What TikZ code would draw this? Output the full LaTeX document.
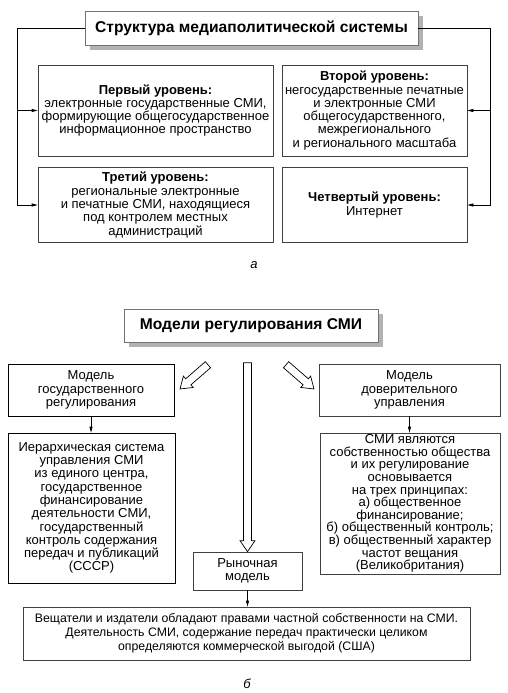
\documentclass[tikz,border=0pt]{standalone}
\usepackage{fontspec}
\setmainfont{Liberation Sans}
\usepackage{tikz}
\usetikzlibrary{
  arrows.meta,
  shadows
}

\begin{document}
\begin{tikzpicture}[%詳細設定
          x=1pt,y=-1pt,
          box/.style={
              draw=black!75,
              line width=0.7pt,
              fill=white,
              align=center,
              inner sep=0pt,
              font=\fontsize{13}{13.3}\selectfont
            },titlebox/.style={
              box,
              draw=black!55,
              font=\fontsize{15.6}{17}\selectfont\bfseries,
              drop shadow={
                  shadow xshift=5pt,
                  shadow yshift=-5pt,
                  fill=black!30,
                  opacity=1
                }
            },boxsize/.style 2 args={
              minimum width=#1pt,
              minimum height=#2pt
            },arrow/.style={
              line width=0.7pt,
              -{Triangle[length=6pt,width=3pt]}
            },caption/.style={
              font=\fontsize{13}{15}\selectfont\itshape
            },hollow/.pic={
              \draw[line width=0.7pt,fill=white]
                (-#1,-4) -- (-11,-4) -- (-11,-7.5) -- (0,0)
                -- (-11,7.5) -- (-11,4) -- (-#1,4) -- cycle;
            }
        ]
        \useasboundingbox (0,0) rectangle (508,693);

        % 上段 (a)
        \node[titlebox,boxsize={333}{34}] (struct) at (251.5,28)
          {Структура медиаполитической системы};
        \node[box,boxsize={235}{91}] (lev1) at (155.5,110.5)
          {\textbf{Первый уровень:}\\электронные государственные СМИ,\\формирующие общегосударственное\\информационное пространство};
        \node[box,boxsize={185}{91}] (lev2) at (374.5,110.5)
          {\textbf{Второй уровень:}\\негосударственные печатные\\и электронные СМИ\\общегосударственного,\\межрегионального\\и регионального масштаба};
        \node[box,boxsize={235}{75}] (lev3) at (155.5,205)
          {\textbf{Третий уровень:}\\региональные электронные\\и печатные СМИ, находящиеся\\под контролем местных\\администраций};
        \node[box,boxsize={185}{75}] (lev4) at (374.5,205)
          {\textbf{Четвертый уровень:}\\Интернет};

        % 座標の定義
        \coordinate (busL) at (17,28);
        \coordinate (busR) at (490,28);

        % 矢印
        \draw[arrow] (struct.west) -- (busL) |- (lev3.west);
        \draw[arrow] (busL |- lev1.west) -- (lev1.west);
        \draw[arrow] (struct.east) -- (busR) |- (lev4.east);
        \draw[arrow] (busR |- lev2.east) -- (lev2.east);

        \node[caption] (capA) at (254,265) {а};

        % 下段 (б)
        \node[titlebox,boxsize={254}{33}] (models) at (251,325.5)
          {Модели регулирования СМИ};
        \node[box,draw=black,boxsize={166}{52}] (gov) at (91,390)
          {Модель\\государственного\\регулирования};
        \node[box,boxsize={181}{52}] (trust) at (409.5,390)
          {Модель\\доверительного\\управления};
        \node[box,draw=black,boxsize={167}{150}] (govtext) at (91.5,508)
          {Иерархическая система\\управления СМИ\\из единого центра,\\государственное\\финансирование\\деятельности СМИ,\\государственный\\контроль содержания\\передач и публикаций\\(СССР)};
        \node[box,boxsize={180}{141},font=\fontsize{13}{12.6}\selectfont] (trusttext) at (410,503.5)
          {СМИ являются\\собственностью общества\\и их регулирование\\основывается\\на трех принципах:\\а) общественное\\финансирование;\\б) общественный контроль;\\в) общественный характер\\частот вещания\\(Великобритания)};
        \node[box,boxsize={109}{38}] (market) at (247.5,571)
          {Рыночная\\модель};
        \node[box,boxsize={447}{53},font=\fontsize{12.3}{14}\selectfont] (private) at (246.5,633.5)
          {Вещатели и издатели обладают правами частной собственности на СМИ.\\Деятельность СМИ, содержание передач практически целиком\\определяются коммерческой выгодой (США)};

        % 矢印
        \draw[arrow] (gov.south) -- (gov.south |- govtext.north);
        \draw[arrow] (trust.south) -- (trust.south |- trusttext.north);
        \draw[arrow] (market.south) -- (market.south |- private.north);

        % 白抜き矢印
        \pic[rotate=-90] at (market.north) {hollow=189};
        \pic[rotate=-139] at (180,389) {hollow=37};
        \pic[rotate=-41] at (314,389) {hollow=37};

        \node[caption] (capB) at (247,684) {б};

      \end{tikzpicture}
\end{document}
